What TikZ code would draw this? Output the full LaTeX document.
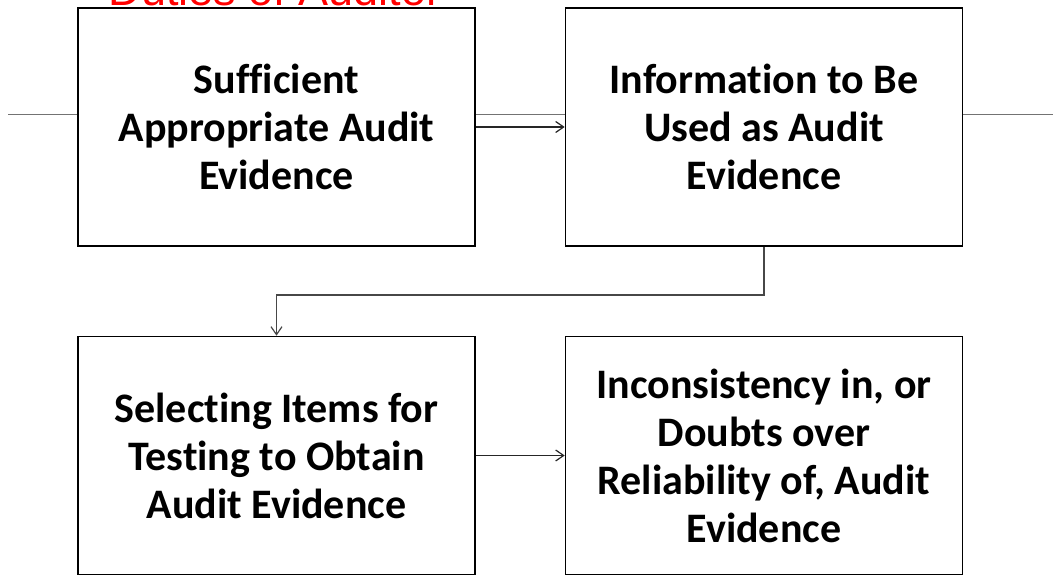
\documentclass[tikz,border=0pt]{standalone}
\usepackage{fontspec}
\setmainfont{Carlito}[Ligatures=NoCommon]
\newfontfamily\titlefont{Liberation Sans}
\usetikzlibrary{arrows.meta,calc}
\tikzset{
  card/.style={draw=black, line width=1.6pt, fill=white, minimum width=397pt, minimum height=238pt, inner sep=0pt},
  cardtext/.style={font=\fontsize{42pt}{48pt}\selectfont\bfseries, align=center},
  arr/.style={line width=1.2pt, draw=black!85, -{Straight Barb[length=8pt,width=11pt,line width=1.2pt]}},
  elbowarr/.style={line width=1.2pt, draw=black!72, -{Straight Barb[length=8pt,width=11pt,line width=1.2pt]}},
  rule/.style={draw=black!55, line width=1pt}
}
\begin{document}
\begin{tikzpicture}[x=1pt,y=-1pt]
\useasboundingbox (0,0) rectangle (1053,575);
\clip (0,0) rectangle (1053,575);
\node[font=\titlefont\fontsize{45pt}{50pt}\selectfont, text=red, anchor=base, inner sep=0pt] (title) at (275,6) {Duties of Auditor};
\coordinate (rl) at (8,115);
\coordinate (rr) at (1053,115);
\draw[rule] (rl) -- (rr);
\node[card] (b1) at (276.5,127) {};
\node[card] (b2) at (764,127) {};
\node[card] (b3) at (276.5,455.5) {};
\node[card] (b4) at (764,455.5) {};
\node[cardtext] (t1) at (b1) {Sufficient\\Appropriate Audit\\Evidence};
\node[cardtext] (t2) at (b2) {Information to Be\\Used as Audit\\Evidence};
\node[cardtext] (t3) at (b3) {Selecting Items for\\Testing to Obtain\\Audit Evidence};
\node[cardtext] (t4) at (b4) {Inconsistency in, or\\Doubts over\\Reliability of, Audit\\Evidence};
\draw[arr] (b1.east) -- (b2.west);
\draw[arr] (b3.east) -- (b4.west);
\coordinate (elb) at (520,295);
\draw[elbowarr] (b2.south) |- (elb) -| (b3.north);
\end{tikzpicture}
\end{document}
